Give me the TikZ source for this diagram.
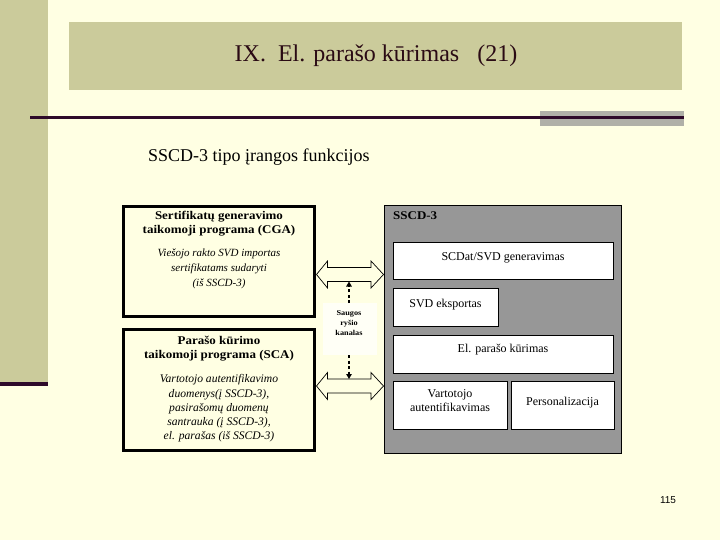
\documentclass[tikz,border=0pt]{standalone}
\usepackage{fontspec}
\setmainfont{Liberation Serif}
\newfontfamily\arialf{Liberation Sans}
\newfontfamily\wideserif[FakeStretch=1.1]{Liberation Serif}
\usetikzlibrary{arrows.meta}
\definecolor{bgc}{HTML}{FFFFE3}
\definecolor{olivec}{HTML}{CBCB9B}
\definecolor{dkline}{HTML}{2E0A2A}
\definecolor{graybar}{HTML}{B0B0A8}
\definecolor{sscdgray}{HTML}{979797}
\definecolor{titlec}{HTML}{2A0A14}
\definecolor{wbox}{HTML}{FFFFF6}
\tikzset{
  every node/.style={inner sep=0pt},
  appbox/.style={draw=black, line width=3pt},
  fnbox/.style={draw=black, line width=0.8pt, fill=white},
  fntext/.style={font=\fontsize{12}{14}\selectfont, align=center},
  boldtext/.style={font=\wideserif\bfseries\fontsize{11.8}{14.2}\selectfont, align=center},
  ittext/.style={font=\itshape\fontsize{11}{15}\selectfont, align=center},
  dblarrow/.style={draw=black, line width=0.7pt},
  dasharrow/.style={line width=1.2pt, dash pattern=on 3pt off 2.5pt, -{Triangle[width=5.5pt,length=5pt]}}
}
\begin{document}
\begin{tikzpicture}[x=1pt,y=-1pt]
\useasboundingbox (0,0) rectangle (720,540);
\fill[bgc] (0,0) rectangle (720,540);
% decoration
\fill[olivec] (0,0) rectangle (48,382);
\fill[dkline] (0,382) rectangle (48,386);
\fill[olivec] (69,22) rectangle (682,90);
\fill[graybar] (540,111) rectangle (684,126);
\draw[dkline, line width=2.5pt] (30,117.5) -- (684,117.5);
% title
\node[font=\fontsize{24}{28}\selectfont, text=titlec] (title) at (376,56) {IX.\hspace{12pt}El. parašo kūrimas\hspace{18pt}(21)};
\node[anchor=west, font=\fontsize{18}{20}\selectfont] (sub) at (148,157) {SSCD-3 tipo įrangos funkcijos};
% left boxes
\draw[appbox] (123.5,206.5) rectangle (314.5,316.5);
\node[boldtext] (cgat) at (219,224) {Sertifikatų generavimo\\taikomoji programa (CGA)};
\node[ittext] (cgai) at (219,268.5) {Viešojo rakto SVD importas\\sertifikatams sudaryti\\(iš SSCD-3)};
\draw[appbox] (123.5,329.5) rectangle (314.5,450.5);
\node[boldtext] (scat) at (219,349) {Parašo kūrimo\\taikomoji programa (SCA)};
\node[ittext, font=\itshape\fontsize{11.6}{14.25}\selectfont] (scai) at (219,408.5) {Vartotojo autentifikavimo\\duomenys(į SSCD-3),\\pasirašomų duomenų\\santrauka (į SSCD-3),\\el. parašas (iš SSCD-3)};
% SSCD-3 box
\draw[fill=sscdgray, draw=black, line width=0.8pt] (384,205) rectangle (621,453);
\node[anchor=west, font=\wideserif\bfseries\fontsize{11.8}{13}\selectfont] (sscd) at (393,216) {SSCD-3};
\draw[fnbox] (393,242) rectangle (613,279);
\node[fntext] (gen) at (503,258) {SCDat/SVD generavimas};
\draw[fnbox] (393,288) rectangle (498,326);
\node[fntext] (eks) at (445.5,305) {SVD eksportas};
\draw[fnbox] (393,335) rectangle (613,373);
\node[fntext] (kur) at (503,350) {El. parašo kūrimas};
\draw[fnbox] (393,381) rectangle (507,429);
\node[fntext] (aut) at (450,401) {Vartotojo\\autentifikavimas};
\draw[fnbox] (511,381) rectangle (614,429);
\node[fntext] (pers) at (562.5,403) {Personalizacija};
% double arrows
\draw[dblarrow] (316.5,274.5) -- (327.5,261) -- (327.5,267.5) -- (371,267.5) -- (371,261) -- (383.5,274.5)
  -- (371,288) -- (371,281.5) -- (327.5,281.5) -- (327.5,288) -- cycle;
\draw[dblarrow] (316.5,386) -- (327.5,372.5) -- (327.5,379) -- (371,379) -- (371,372.5) -- (383.5,386)
  -- (371,399.5) -- (371,393) -- (327.5,393) -- (327.5,399.5) -- cycle;
\coordinate (up) at (349,281.5);
\coordinate (lo) at (349,379);
% secure channel
\fill[wbox] (323,303) rectangle (377,355);
\node[font=\wideserif\bfseries\fontsize{7.5}{10}\selectfont, align=center] (sk) at (349,323.5) {Saugos\\ryšio\\kanalas};
\coordinate (skt) at (349,303);
\coordinate (skb) at (349,355);
\draw[dasharrow] (skt) -- (up);
\draw[dasharrow] (skb) -- (lo);
% page number
\node[font=\arialf\fontsize{10}{12}\selectfont] (pg) at (668,500) {115};
\end{tikzpicture}
\end{document}
